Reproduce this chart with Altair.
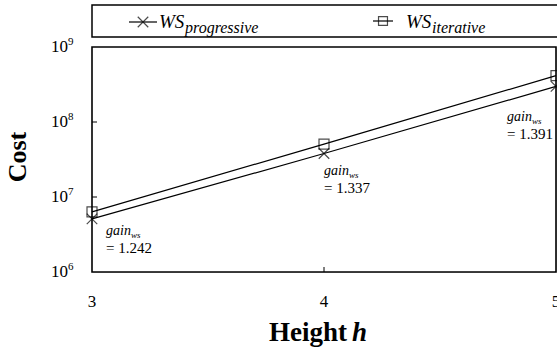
import altair as alt
import pandas as pd

# ---- data -------------------------------------------------------------
heights = [3, 4, 5]
ws_progressive = [5.1e6, 3.8e7, 2.98e8]
gain_ws = [1.242, 1.337, 1.391]
# iterative cost = progressive cost x stated gain
ws_iterative = [p * g for p, g in zip(ws_progressive, gain_ws)]

y_tick_values = [1e6, 1e7, 1e8, 1e9]
y_tick_exponents = ["6", "7", "8", "9"]
x_tick_values = [3, 4, 5]

# ---- layout / style ---------------------------------------------------
SERIF = "Liberation Serif"
W, H = 464, 225
CROSS = "M-1,-1L1,1M-1,1L1,-1"
# label offsets (dx, dy) from each progressive point
ANNOT_OFFSETS = {3: (14, 12), 4: (0, 17), 5: (-49, 31)}

xs = alt.Scale(domain=[3, 5], nice=False, zero=False)
ys = alt.Scale(type="log", domain=[1e6, 1e9], nice=False)

prog = pd.DataFrame({"h": heights, "cost": ws_progressive, "gain": gain_ws})
iters = pd.DataFrame({"h": heights, "cost": ws_iterative})

X = alt.X("h:Q", scale=xs, axis=None)
Y = alt.Y("cost:Q", scale=ys, axis=None)


def one(text):
    return alt.Chart(pd.DataFrame({"t": [text]}))


# plot frame
frame = one("").mark_rect(fill="white", stroke="black", strokeWidth=1.6).encode(
    x=alt.value(0), x2=alt.value(W), y=alt.value(0), y2=alt.value(H))

line_prog = alt.Chart(prog).mark_line(color="black", strokeWidth=1.2).encode(x=X, y=Y)
line_iter = alt.Chart(iters).mark_line(color="black", strokeWidth=1.2).encode(x=X, y=Y)
pts_prog = alt.Chart(prog).mark_point(shape=CROSS, size=110, color="black",
                                      strokeWidth=1.2, filled=False).encode(x=X, y=Y)
pts_iter = alt.Chart(iters).mark_point(shape="square", size=100, color="black",
                                       strokeWidth=1.2, filled=False).encode(x=X, y=Y)

# y tick labels as 10 + superscript exponent
yt = pd.DataFrame({"v": y_tick_values, "base": ["10"] * 4, "exp": y_tick_exponents})
ylab_base = alt.Chart(yt).mark_text(font=SERIF, fontSize=17, align="right",
                                    baseline="middle", color="black").encode(
    y=alt.Y("v:Q", scale=ys, axis=None), x=alt.value(-24), text="base:N")
ylab_exp = alt.Chart(yt).mark_text(font=SERIF, fontSize=11, align="left",
                                   baseline="middle", dy=-5, color="black").encode(
    y=alt.Y("v:Q", scale=ys, axis=None), x=alt.value(-24), text="exp:N")

# x tick labels
xt = pd.DataFrame({"h": x_tick_values})
xlab = alt.Chart(xt).mark_text(font=SERIF, fontSize=17, align="center",
                               baseline="middle", color="black").encode(
    x=X, y=alt.value(H + 30), text="h:N")

# inward tick marks
ytick_in = alt.Chart(pd.DataFrame({"v": y_tick_values[1:3]})).mark_rule(
    color="black", strokeWidth=1).encode(
    y=alt.Y("v:Q", scale=ys, axis=None), x=alt.value(0), x2=alt.value(5))
xtick_in = alt.Chart(pd.DataFrame({"h": x_tick_values[1:2]})).mark_rule(
    color="black", strokeWidth=1).encode(
    x=X, y=alt.value(H), y2=alt.value(H - 5))

# axis titles
y_title = one("Cost").mark_text(font=SERIF, fontSize=26, fontWeight="bold", angle=270,
                                align="center", baseline="middle", color="black").encode(
    x=alt.value(-74), y=alt.value(110), text="t:N")
x_title_a = one("Height").mark_text(font=SERIF, fontSize=27, fontWeight="bold",
                                    align="right", baseline="alphabetic", color="black").encode(
    x=alt.value(255), y=alt.value(294), text="t:N")
x_title_b = one("h").mark_text(font=SERIF, fontSize=27, fontWeight="bold", fontStyle="italic",
                               align="left", baseline="alphabetic", color="black").encode(
    x=alt.value(260), y=alt.value(294), text="t:N")

# gain annotations
annots = []
for h, (ox, oy) in ANNOT_OFFSETS.items():
    base = alt.Chart(prog).transform_filter(alt.datum.h == h).transform_calculate(
        g="'gain'", s="'ws'", v="'= ' + format(datum.gain, '.3f')")
    annots.append(base.mark_text(font=SERIF, fontSize=14, fontStyle="italic", align="left",
                                 baseline="middle", dx=ox, dy=oy, color="black").encode(
        x=X, y=Y, text="g:N"))
    annots.append(base.mark_text(font=SERIF, fontSize=9, fontStyle="italic", align="left",
                                 baseline="middle", dx=ox + 25, dy=oy + 4, color="black").encode(
        x=X, y=Y, text="s:N"))
    annots.append(base.mark_text(font=SERIF, fontSize=15, align="left",
                                 baseline="middle", dx=ox, dy=oy + 17, color="black").encode(
        x=X, y=Y, text="v:N"))

# legend box on top
leg_box = one("").mark_rect(fill="white", stroke="black", strokeWidth=1.5).encode(
    x=alt.value(0), x2=alt.value(470), y=alt.value(-42), y2=alt.value(-10))
leg_line1 = one("").mark_rule(color="black", strokeWidth=1.2).encode(
    x=alt.value(37), x2=alt.value(65), y=alt.value(-25))
leg_mark1 = one("").mark_point(shape=CROSS, size=110, color="black", strokeWidth=1.2,
                               filled=False).encode(x=alt.value(51), y=alt.value(-25))
leg_line2 = one("").mark_rule(color="black", strokeWidth=1.2).encode(
    x=alt.value(281), x2=alt.value(301), y=alt.value(-26))
leg_mark2 = one("").mark_point(shape="square", size=80, color="black", strokeWidth=1.2,
                               filled=False).encode(x=alt.value(291), y=alt.value(-26))


def leg_text(text, x, y, size):
    return one(text).mark_text(font=SERIF, fontSize=size, fontStyle="italic", align="left",
                               baseline="alphabetic", color="black").encode(
        x=alt.value(x), y=alt.value(y), text="t:N")


legend = [leg_box, leg_line1, leg_mark1, leg_line2, leg_mark2,
          leg_text("WS", 67, -19, 19), leg_text("progressive", 93, -14, 16),
          leg_text("WS", 314, -19, 19), leg_text("iterative", 340, -14, 16)]

chart = alt.layer(
    frame, line_prog, line_iter, pts_prog, pts_iter, ytick_in, xtick_in,
    ylab_base, ylab_exp, xlab, y_title, x_title_a, x_title_b, *annots, *legend
).properties(
    width=W, height=H,
    autosize=alt.AutoSizeParams(type="none"),
    padding={"left": 92, "top": 47, "right": 1, "bottom": 79},
).configure_view(
    strokeWidth=0
).configure(background="white")

chart.save("out.html", embed_options={"renderer": "svg", "actions": False})
